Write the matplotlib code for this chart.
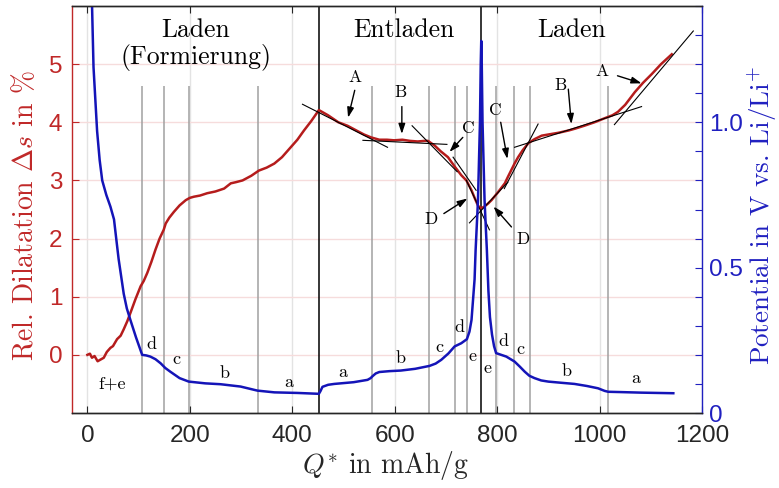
import matplotlib
matplotlib.use("Agg")
import matplotlib.pyplot as plt
from matplotlib.ticker import FixedLocator, FuncFormatter, MultipleLocator

plt.rcParams["font.family"] = "Liberation Sans"
plt.rcParams["mathtext.fontset"] = "cm"
plt.rcParams["axes.unicode_minus"] = False

# ---- relative dilatation (left axis, %) ----
dil_q = [0, 5, 9, 14, 20, 26, 32, 38, 45, 50, 58, 65, 71, 78, 84, 94, 104, 110, 117,
         125, 133, 141, 149, 153, 160, 169, 180, 192, 200, 208, 220, 234, 250, 267,
         280, 290, 303, 320, 335, 350, 365, 380, 397, 410, 423, 437, 452,
         470, 490, 508, 525, 540, 554, 570, 585, 599, 615, 630, 645, 658, 665, 678,
         690, 704, 717, 730, 740, 750, 757, 763, 769,
         775, 782, 789, 802, 815, 821, 834, 841, 850, 861, 873, 887, 900, 920, 940,
         952, 970, 990, 1010, 1025, 1036, 1050, 1069, 1085, 1102, 1120, 1141]
dil_s = [0.0, 0.02, -0.05, -0.02, -0.11, -0.08, -0.05, 0.05, 0.12, 0.15, 0.27, 0.33,
         0.44, 0.58, 0.72, 0.96, 1.18, 1.27, 1.41, 1.60, 1.81, 2.00, 2.15, 2.26, 2.36,
         2.46, 2.57, 2.66, 2.70, 2.72, 2.74, 2.78, 2.81, 2.86, 2.95, 2.97, 3.00, 3.08,
         3.17, 3.22, 3.29, 3.40, 3.57, 3.70, 3.86, 4.02, 4.21,
         4.12, 4.00, 3.94, 3.86, 3.79, 3.74, 3.70, 3.70, 3.69, 3.70, 3.68, 3.67, 3.68,
         3.68, 3.60, 3.50, 3.40, 3.24, 3.09, 3.00, 2.83, 2.68, 2.56, 2.52,
         2.55, 2.60, 2.66, 2.80, 2.95, 3.06, 3.29, 3.40, 3.52, 3.64, 3.71, 3.77, 3.79,
         3.82, 3.86, 3.89, 3.94, 4.00, 4.07, 4.12, 4.18, 4.30, 4.52, 4.68, 4.83, 5.00,
         5.17]

# ---- potential (right axis, V vs. Li/Li+) ----
pot_q = [0, 4, 9, 12, 19, 24, 29, 37, 45, 52, 57, 61, 66, 71, 77, 84, 95, 107, 115,
         123, 133, 143, 152, 162, 180, 198, 230, 260, 299, 332, 365, 410, 452,
         455, 459, 470, 482, 520, 547, 553, 557, 563, 570, 590, 612, 640, 668, 680,
         691, 705, 717, 730, 741, 746, 750, 753, 756, 758, 762.6, 766.5, 768, 769,
         770, 771.5, 775.5, 780, 783, 786, 790, 794, 798,
         808, 818, 834, 844, 854, 863, 873, 886, 900, 925, 951, 975, 997, 1010, 1017,
         1040, 1082, 1144]
pot_v = [3.0, 2.2, 1.41, 1.19, 0.97, 0.87, 0.80, 0.75, 0.71, 0.666, 0.59, 0.53, 0.47,
         0.41, 0.36, 0.32, 0.26, 0.20, 0.198, 0.194, 0.185, 0.171, 0.155, 0.142, 0.12,
         0.108, 0.102, 0.099, 0.091, 0.077, 0.071, 0.069, 0.066,
         0.075, 0.09, 0.097, 0.100, 0.106, 0.114, 0.12, 0.127, 0.136, 0.141, 0.144,
         0.146, 0.152, 0.162, 0.17, 0.183, 0.205, 0.229, 0.24, 0.254, 0.28, 0.32,
         0.39, 0.46, 0.56, 0.73, 1.0, 1.2, 1.28,
         1.2, 1.0, 0.73, 0.56, 0.42, 0.33, 0.27, 0.23, 0.206,
         0.20, 0.194, 0.177, 0.16, 0.142, 0.128, 0.12, 0.112, 0.108, 0.104, 0.100,
         0.093, 0.085, 0.076, 0.073, 0.072, 0.070, 0.068]

# ---- stage boundaries ----
step_main = [452, 768]
step_minor = [107, 150, 198, 334, 556, 667, 717, 741, 798, 833, 865, 1016]

# ---- tangent segments on the dilatation curve: (q0, s0, q1, s1) ----
tangents = [
    (420, 4.31, 586, 3.57),
    (538, 3.69, 702, 3.62),
    (634, 3.94, 722, 3.15),
    (714, 3.40, 759, 2.83),
    (740, 3.00, 785, 2.15),
    (746, 2.27, 821, 2.97),
    (814, 2.86, 880, 3.97),
    (834, 3.57, 1082, 4.27),
    (1029, 3.96, 1183, 5.57),
]

# ---- letter annotations: (text, label q, label s, tail q, tail s, head q, head s) ----
arrows = [
    ("A", 522, 4.78, 522, 4.55, 509, 4.08),
    ("B", 611, 4.51, 614, 4.27, 614, 3.80),
    ("C", 744, 3.90, 733, 3.74, 707, 3.49),
    ("D", 670, 2.33, 696, 2.43, 742, 2.69),
    ("C", 797, 4.21, 807, 4.00, 820, 3.37),
    ("D", 851, 1.99, 828, 2.20, 793, 2.55),
    ("B", 924, 4.64, 939, 4.57, 945, 3.97),
    ("A", 1005, 4.88, 1035, 4.80, 1082, 4.67),
]

# ---- stage labels on the potential curve ----
stage_txt = ["f+e", "d", "c", "b", "a", "a", "b", "c", "d", "e", "e",
             "d", "c", "b", "a"]
stage_q = [48, 125, 174, 268, 394, 498, 612, 687, 727, 751, 782,
           812, 846, 935, 1070]
stage_s = [-0.50, 0.18, -0.07, -0.32, -0.47, -0.30, -0.06, 0.13, 0.48, -0.03, -0.24,
           0.24, 0.10, -0.29, -0.40]

# ---- section titles ----
sect_txt = ["Laden", "(Formierung)", "Entladen", "Laden"]
sect_q = [212, 212, 619, 946]
sect_s = [5.47, 5.00, 5.47, 5.47]

RED = "#b51c1c"
RED_AX = "#c02828"
BLUE = "#1414b8"
BLUE_AX = "#2020c0"
SERIF = "cmr10"

fig = plt.figure(figsize=(7.79, 4.88), dpi=100)
ax = fig.add_axes([72 / 779, 1 - 413 / 488, 630 / 779, 407 / 488])
ax2 = ax.twinx()

ax.set_xlim(-30, 1200)
ax.set_ylim(-1, 6)
ax2.set_ylim(0, 1.4)

# grid
for q in range(0, 1201, 200):
    ax.axvline(q, color="#e3e3e3", lw=1.0, zorder=0)
for s in range(0, 6):
    ax.axhline(s, color="#f6dcdc", lw=1.0, zorder=0)

# stage boundaries
ax.vlines(step_minor, -1, 4.63, color="#a0a0a0", lw=1.1, zorder=1)
for q in step_main:
    ax.axvline(q, color="black", lw=1.1, zorder=1)

ax.plot(dil_q, dil_s, color=RED, lw=1.8, zorder=2)
for q0, s0, q1, s1 in tangents:
    ax.plot([q0, q1], [s0, s1], color="black", lw=0.8, zorder=3)

for t, lq, ls, tq, ts, hq, hs in arrows:
    ax.text(lq, ls, t, family=SERIF, fontsize=12.5, ha="center", va="center", zorder=4)
    ax.annotate("", xy=(hq, hs), xytext=(tq, ts),
                arrowprops=dict(arrowstyle="-|>,head_length=0.6,head_width=0.2",
                                color="black", lw=1.0, shrinkA=0, shrinkB=0),
                zorder=4)

for t, q, s in zip(stage_txt, stage_q, stage_s):
    ax.text(q, s, t, family=SERIF, fontsize=13, ha="center", va="center", zorder=4)

for t, q, s in zip(sect_txt, sect_q, sect_s):
    ax.text(q, s, t, family=SERIF, fontsize=18.5, ha="center", va="baseline", zorder=4)

ax2.plot(pot_q, pot_v, color=BLUE, lw=1.8, zorder=2)

# axes styling
ax.xaxis.set_major_locator(MultipleLocator(200))
ax.yaxis.set_major_locator(FixedLocator([0, 1, 2, 3, 4, 5]))
ax2.yaxis.set_major_locator(FixedLocator([0, 0.5, 1.0]))
ax2.yaxis.set_minor_locator(MultipleLocator(0.1))
ax2.yaxis.set_major_formatter(FuncFormatter(lambda v, p: "0" if v == 0 else f"{v:.1f}"))

ax.tick_params(axis="x", direction="in", length=5, width=0.8, top=True,
               labelsize=17.5, pad=9, colors="#262626")
ax.tick_params(axis="y", direction="in", length=5, width=0.8, labelsize=17.5, pad=7,
               colors=RED_AX)
ax2.tick_params(axis="y", which="both", direction="in", length=5, width=0.8,
                labelsize=17.5, pad=5, colors=BLUE_AX)

ax.spines["left"].set_color(RED_AX)
ax2.spines["left"].set_visible(False)
ax2.spines["right"].set_color(BLUE_AX)
ax.spines["right"].set_visible(False)
for a in (ax, ax2):
    a.spines["top"].set_color("#262626")
    a.spines["bottom"].set_color("#262626")
    for sp in a.spines.values():
        sp.set_linewidth(1.0)

ax.set_xlabel(r"$Q^{*}$ in mAh/g", family=SERIF, fontsize=20, color="#262626")
ax.xaxis.set_label_coords(0.4976, -0.13)
ax.xaxis.label.set_va("center")
ax.set_ylabel(r"Rel. Dilatation $\Delta s$ in %", family=SERIF, fontsize=20, color=RED_AX)
ax.yaxis.set_label_coords(-0.0746, 0.485)
ax.yaxis.label.set_va("center")
ax2.set_ylabel(r"Potential in V vs. Li/Li$^{+}$", family=SERIF, fontsize=19.5, color=BLUE_AX)
ax2.yaxis.set_label_coords(1.097, 0.485)
ax2.yaxis.label.set_va("center")

fig.savefig("out.png", dpi=100)
